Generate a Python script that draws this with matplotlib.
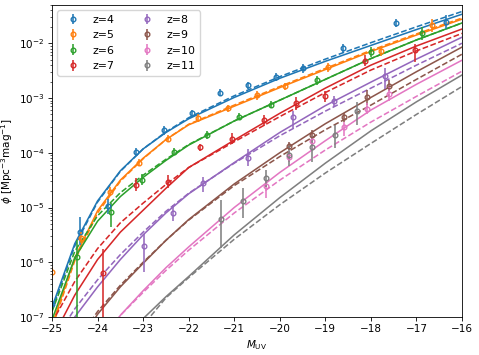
import numpy as np
import matplotlib
matplotlib.use("Agg")
import matplotlib.pyplot as plt

S = 0.75  # scale of a default 640x480 figure down to 479x355
plt.rcParams['font.family'] = ['DejaVu Sans']
plt.rcParams.update({
    'font.size': 10 * S,
    'lines.linewidth': 1.5 * S,
    'axes.linewidth': 0.8 * S,
    'axes.labelpad': 4 * S,
    'xtick.major.width': 0.8 * S, 'ytick.major.width': 0.8 * S,
    'xtick.minor.width': 0.6 * S, 'ytick.minor.width': 0.6 * S,
    'xtick.major.size': 3.5 * S, 'ytick.major.size': 3.5 * S,
    'xtick.minor.size': 2 * S, 'ytick.minor.size': 2 * S,
    'xtick.major.pad': 3.5 * S, 'ytick.major.pad': 3.5 * S,
    'lines.markersize': 6 * S,
    'legend.fontsize': 10 * S,
})

redshifts = [4, 5, 6, 7, 8, 9, 10, 11]
colors = ['C0', 'C1', 'C2', 'C3', 'C4', 'C5', 'C6', 'C7']

# model curves: log10(phi) tabulated on a magnitude grid
M_grid = [-25, -24.5, -24, -23.5, -23, -22.5, -22, -21, -20, -19, -18, -17, -16]

solid_z4 = [-6.82, -5.66, -4.88, -4.33, -3.93, -3.63, -3.38, -2.99, -2.64, -2.33, -2.04, -1.75, -1.47]
dashed_z4 = [-6.87, -5.70, -4.90, -4.34, -3.93, -3.62, -3.36, -2.96, -2.61, -2.29, -1.99, -1.70, -1.42]
solid_z5 = [-7.15, -5.92, -5.06, -4.50, -4.10, -3.76, -3.49, -3.15, -2.81, -2.48, -2.15, -1.85, -1.56]
dashed_z5 = [-7.20, -5.97, -5.10, -4.52, -4.11, -3.76, -3.48, -3.13, -2.79, -2.46, -2.13, -1.83, -1.54]
solid_z6 = [-7.05, -5.92, -5.25, -4.80, -4.45, -4.14, -3.86, -3.42, -3.04, -2.66, -2.28, -1.94, -1.63]
dashed_z6 = [-6.90, -5.80, -5.15, -4.73, -4.41, -4.12, -3.85, -3.42, -3.04, -2.66, -2.28, -1.94, -1.63]
solid_z7 = [-7.40, -6.60, -5.95, -5.45, -5.05, -4.65, -4.27, -3.77, -3.28, -2.82, -2.40, -2.05, -1.74]
dashed_z7 = [-7.10, -6.35, -5.75, -5.28, -4.92, -4.58, -4.27, -3.80, -3.34, -2.90, -2.49, -2.14, -1.82]
solid_z8 = [-7.60, -7.00, -6.45, -5.95, -5.50, -5.10, -4.75, -4.18, -3.63, -3.14, -2.71, -2.29, -1.89]
dashed_z8 = [-7.50, -6.85, -6.32, -5.86, -5.45, -5.07, -4.74, -4.19, -3.69, -3.24, -2.82, -2.40, -2.00]
solid_z9 = [-8.30, -7.60, -6.95, -6.45, -6.02, -5.60, -5.22, -4.57, -4.00, -3.47, -2.99, -2.52, -2.07]
dashed_z9 = [-8.20, -7.50, -6.90, -6.42, -6.00, -5.60, -5.23, -4.60, -4.07, -3.58, -3.13, -2.66, -2.20]
solid_z10 = [-9.00, -8.30, -7.60, -6.97, -6.52, -6.10, -5.72, -5.00, -4.36, -3.78, -3.22, -2.75, -2.31]
dashed_z10 = [-9.00, -8.30, -7.60, -6.97, -6.55, -6.15, -5.78, -5.10, -4.50, -3.95, -3.44, -2.97, -2.51]
solid_z11 = [-10.0, -9.20, -8.50, -7.70, -7.03, -6.63, -6.26, -5.50, -4.82, -4.19, -3.60, -3.07, -2.58]
dashed_z11 = [-10.0, -9.20, -8.50, -7.75, -7.15, -6.65, -6.28, -5.58, -4.95, -4.37, -3.83, -3.30, -2.79]

solid_curves = [solid_z4, solid_z5, solid_z6, solid_z7, solid_z8, solid_z9, solid_z10, solid_z11]
dashed_curves = [dashed_z4, dashed_z5, dashed_z6, dashed_z7, dashed_z8, dashed_z9, dashed_z10, dashed_z11]

# observed points: M_UV, log10(phi), lower / upper error in dex
obs_M_z4 = [-25.0, -24.39, -23.77, -23.16, -22.54, -21.93, -21.31, -20.70, -20.08, -19.49, -18.61, -17.45, -16.35]
obs_phi_z4 = [-6.76, -5.44, -4.97, -3.98, -3.59, -3.28, -2.90, -2.77, -2.62, -2.46, -2.09, -1.63, -1.61]
obs_lo_z4 = [0.10, 0.25, 0.15, 0.06, 0.08, 0.06, 0.07, 0.06, 0.07, 0.08, 0.08, 0.07, 0.13]
obs_hi_z4 = [0.10, 0.27, 0.13, 0.06, 0.08, 0.06, 0.07, 0.06, 0.07, 0.08, 0.08, 0.07, 0.13]

obs_M_z5 = [-25.0, -24.36, -23.73, -23.09, -22.45, -21.80, -21.14, -20.50, -19.89, -18.94, -17.78, -16.66]
obs_phi_z5 = [-6.18, -5.55, -4.71, -4.18, -3.74, -3.37, -3.19, -2.95, -2.79, -2.44, -2.15, -1.67]
obs_lo_z5 = [0.10, 0.10, 0.08, 0.07, 0.07, 0.07, 0.07, 0.08, 0.07, 0.08, 0.08, 0.12]
obs_hi_z5 = [0.10, 0.10, 0.08, 0.07, 0.07, 0.07, 0.07, 0.08, 0.07, 0.08, 0.08, 0.12]

obs_M_z6 = [-24.45, -23.70, -23.02, -22.32, -21.60, -20.90, -20.19, -19.18, -18.00, -16.88]
obs_phi_z6 = [-5.90, -5.08, -4.49, -3.98, -3.68, -3.34, -3.12, -2.68, -2.16, -1.82]
obs_lo_z6 = [3.00, 0.27, 0.10, 0.07, 0.07, 0.07, 0.07, 0.08, 0.10, 0.12]
obs_hi_z6 = [0.31, 0.16, 0.10, 0.07, 0.07, 0.07, 0.07, 0.08, 0.10, 0.12]

obs_M_z7 = [-23.88, -23.16, -22.45, -21.75, -21.05, -20.35, -19.65, -19.01, -18.13, -17.03]
obs_phi_z7 = [-6.19, -4.58, -4.53, -3.90, -3.74, -3.41, -3.10, -2.97, -2.32, -2.13]
obs_lo_z7 = [3.00, 0.12, 0.12, 0.06, 0.10, 0.10, 0.12, 0.10, 0.10, 0.22]
obs_hi_z7 = [0.44, 0.12, 0.12, 0.06, 0.10, 0.10, 0.12, 0.10, 0.10, 0.11]

obs_M_z8 = [-22.98, -22.34, -21.69, -20.70, -19.71, -18.81, -17.69]
obs_phi_z8 = [-5.70, -5.10, -4.55, -4.09, -3.34, -3.06, -2.59]
obs_lo_z8 = [0.48, 0.15, 0.16, 0.16, 0.20, 0.11, 0.24]
obs_hi_z8 = [0.22, 0.15, 0.11, 0.15, 0.11, 0.09, 0.13]

obs_M_z9 = [-19.80, -19.29, -18.59, -18.09, -17.60]
obs_phi_z9 = [-3.88, -3.67, -3.35, -2.99, -2.78]
obs_lo_z9 = [0.07, 0.08, 0.08, 0.14, 0.10]
obs_hi_z9 = [0.07, 0.08, 0.08, 0.14, 0.10]

obs_M_z10 = [-20.30, -19.80, -19.29, -18.59, -18.09, -17.60]
obs_phi_z10 = [-4.61, -4.07, -3.79, -3.53, -3.20, -2.93]
obs_lo_z10 = [0.21, 0.10, 0.08, 0.17, 0.10, 0.13]
obs_hi_z10 = [0.12, 0.10, 0.08, 0.10, 0.10, 0.13]

obs_M_z11 = [-21.29, -20.81, -20.30, -19.80, -19.29, -18.79, -18.31]
obs_phi_z11 = [-5.21, -4.89, -4.47, -4.05, -3.89, -3.67, -3.23]
obs_lo_z11 = [0.53, 0.31, 0.16, 0.20, 0.28, 0.24, 0.26]
obs_hi_z11 = [0.35, 0.24, 0.15, 0.17, 0.19, 0.18, 0.15]

obs_M = [obs_M_z4, obs_M_z5, obs_M_z6, obs_M_z7, obs_M_z8, obs_M_z9, obs_M_z10, obs_M_z11]
obs_phi = [obs_phi_z4, obs_phi_z5, obs_phi_z6, obs_phi_z7, obs_phi_z8, obs_phi_z9, obs_phi_z10, obs_phi_z11]
obs_lo = [obs_lo_z4, obs_lo_z5, obs_lo_z6, obs_lo_z7, obs_lo_z8, obs_lo_z9, obs_lo_z10, obs_lo_z11]
obs_hi = [obs_hi_z4, obs_hi_z5, obs_hi_z6, obs_hi_z7, obs_hi_z8, obs_hi_z9, obs_hi_z10, obs_hi_z11]

fig = plt.figure(figsize=(4.79, 3.55), dpi=100)
ax = fig.add_axes([0.1086, 0.107, 0.8559, 0.879])

for i, z in enumerate(redshifts):
    c = colors[i]
    ax.plot(M_grid, 10 ** np.array(solid_curves[i]), color=c, ls='-')
    ax.plot(M_grid, 10 ** np.array(dashed_curves[i]), color=c, ls='--')

for i, z in enumerate(redshifts):
    c = colors[i]
    lp = np.array(obs_phi[i])
    phi = 10 ** lp
    lo = phi - 10 ** (lp - np.array(obs_lo[i]))
    hi = 10 ** (lp + np.array(obs_hi[i])) - phi
    ax.errorbar(obs_M[i], phi, yerr=[lo, hi], fmt='o', color=c, mfc='none',
                ms=4.5 * S, mew=1.3 * S, elinewidth=1.5 * S, capsize=0,
                label=f'z={z}')

ax.set_yscale('log')
ax.set_xlim(-25, -16)
ax.set_ylim(1e-7, 5e-2)
ax.set_xlabel(r'$M_{\rm UV}$')
ax.set_ylabel(r'$\phi$ [Mpc$^{-3}$mag$^{-1}$]')
ax.legend(ncol=2, loc='upper left', fontsize=10.5 * S)

fig.savefig('out.png', dpi=100)
